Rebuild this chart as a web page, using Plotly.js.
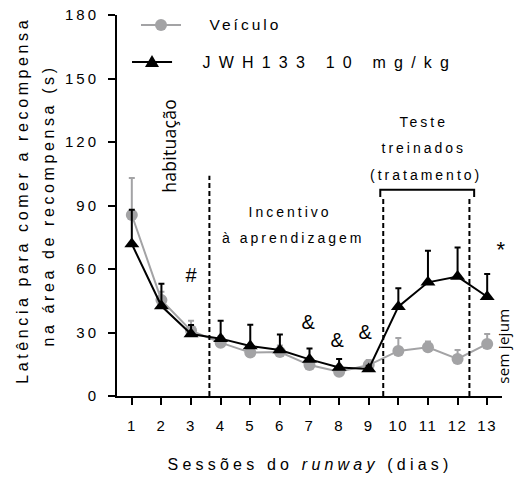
<!DOCTYPE html>
<html>
<head>
<meta charset="utf-8">
<script src="https://cdn.plot.ly/plotly-3.0.1.min.js"></script>
<style>
  body { margin: 0; background: #fff; }
</style>
</head>
<body>
<div id="chart" style="width:515px;height:477px;"></div>
<script>
// Data
const sessions = [1, 2, 3, 4, 5, 6, 7, 8, 9, 10, 11, 12, 13];
const sessionLabels = ["1","2","3","4","5","6","7","8","9","10","11","12","13"];
const veiculo    = [85.5, 45.3, 30.9, 25.2, 20.5, 20.8, 14.6, 11.5, 14.6, 21.3, 23.0, 17.5, 24.6];
const veiculoErr = [17.5, 4.0, 4.7, 3.0, 3.0, 3.0, 2.5, 2.5, 2.4, 6.1, 2.7, 4.2, 4.7];
const jwh        = [71.8, 42.5, 29.3, 27.1, 23.6, 21.7, 17.3, 13.5, 12.8, 42.2, 53.7, 56.4, 46.9];
const jwhErr     = [16.2, 10.5, 4.2, 8.5, 10.1, 7.3, 5.2, 4.0, 1.5, 8.7, 14.9, 13.8, 10.7];
const yTicks = [0, 30, 60, 90, 120, 150, 180];
const yTickLabels = ["0", "30", "60", "90", "120", "150", "180"];
const seriesNames = ["Veículo", "JWH133 10 mg/kg"];

const FONT = "Liberation Sans, Arial, sans-serif";
const ALT = "Open Sans, sans-serif";
const GRAY = "#a3a3a5";

const tracked = (s, px) => '<span style="letter-spacing:' + px + 'px">' + s + '</span>';

const traces = [
  {
    x: sessions, y: veiculo, name: seriesNames[0], type: "scatter", mode: "lines+markers",
    line: {color: GRAY, width: 2},
    marker: {symbol: "circle", size: 12, color: GRAY},
    error_y: {type: "data", symmetric: false, array: veiculoErr, arrayminus: veiculoErr.map(() => 0),
              color: GRAY, thickness: 2, width: 3},
    showlegend: false
  },
  {
    x: sessions, y: jwh, name: seriesNames[1], type: "scatter", mode: "lines+markers",
    line: {color: "#000", width: 2},
    marker: {symbol: "triangle-up", size: 13, color: "#000"},
    error_y: {type: "data", symmetric: false, array: jwhErr, arrayminus: jwhErr.map(() => 0),
              color: "#000", thickness: 2, width: 3},
    showlegend: false
  }
];

const ann = (text, x, y, size, extra) => Object.assign({
  text: text, x: x, y: y, xref: "x", yref: "y", showarrow: false,
  font: {family: FONT, size: size, color: "#000"}, xanchor: "center", yanchor: "middle"
}, extra || {});
const pann = (text, x, y, size, extra) => Object.assign({
  text: text, x: x, y: y, xref: "paper", yref: "paper", showarrow: false,
  font: {family: FONT, size: size, color: "#000"}, xanchor: "center", yanchor: "middle"
}, extra || {});

// legend key positions (paper coords)
const legY = [0.9738, 0.8766];

const layout = {
  width: 515, height: 477,
  margin: {l: 117, r: 13, t: 15, b: 81},
  paper_bgcolor: "#fff", plot_bgcolor: "#fff",
  font: {family: FONT, size: 15, color: "#000"},
  showlegend: false,
  xaxis: {
    range: [0.5, 13.5], tickvals: sessions, ticktext: sessionLabels.map(s => tracked(s, 1.5)),
    showline: true, linecolor: "#000", linewidth: 2, ticks: "outside", ticklen: 7, tickwidth: 2,
    tickcolor: "#000", showgrid: false, zeroline: false, tickfont: {size: 15}, ticklabelstandoff: 8
  },
  yaxis: {
    range: [0, 180], tickvals: yTicks, ticktext: yTickLabels.map(s => tracked(s, 3)),
    showline: true, linecolor: "#000", linewidth: 2, ticks: "outside", ticklen: 7, tickwidth: 2,
    tickcolor: "#000", showgrid: false, zeroline: false, tickfont: {size: 15}, ticklabelstandoff: 6
  },
  shapes: [
    {type: "line", xref: "x", yref: "y", x0: 3.62, x1: 3.62, y0: 0, y1: 104,
     line: {color: "#000", width: 2, dash: "5px,3px"}},
    {type: "line", xref: "x", yref: "y", x0: 9.49, x1: 9.49, y0: 0, y1: 94,
     line: {color: "#000", width: 2, dash: "5px,3px"}},
    {type: "line", xref: "x", yref: "y", x0: 12.4, x1: 12.4, y0: 0, y1: 94,
     line: {color: "#000", width: 2, dash: "5px,3px"}},
    {type: "path", xref: "x", yref: "y", path: "M 9.39 94 L 9.39 97.4 L 12.56 97.4 L 12.56 94",
     line: {color: "#000", width: 2}},
    // legend keys
    {type: "line", xref: "paper", yref: "paper", x0: 0.0623, x1: 0.1662, y0: legY[0], y1: legY[0],
     line: {color: GRAY, width: 2}},
    {type: "circle", xref: "paper", yref: "paper", xsizemode: "pixel", ysizemode: "pixel",
     xanchor: 0.1143, yanchor: legY[0], x0: -6, x1: 6, y0: -6, y1: 6,
     fillcolor: GRAY, line: {color: GRAY, width: 0}},
    {type: "line", xref: "paper", yref: "paper", x0: 0.039, x1: 0.143, y0: legY[1], y1: legY[1],
     line: {color: "#000", width: 2}},
    {type: "path", xref: "paper", yref: "paper", xsizemode: "pixel", ysizemode: "pixel",
     xanchor: 0.0909, yanchor: legY[1], path: "M -7 -5 L 7 -5 L 0 7 Z",
     fillcolor: "#000", line: {color: "#000", width: 0}}
  ],
  annotations: [
    ann("habituação", 2.26, 118, 17.5, {textangle: -90, font: {family: ALT, size: 17.5, color: "#000"}}),
    ann("#", 3.06, 57.2, 20),
    ann("Incentivo", 6.34, 86.9, 14),
    ann("à aprendizagem", 6.44, 74.6, 14),
    ann("&", 7.02, 35, 20),
    ann("&", 8.0, 26.5, 20),
    ann("&", 8.95, 30.2, 20),
    ann("Teste", 10.87, 129.4, 14),
    ann("treinados", 10.87, 117.1, 14),
    ann("(tratamento)", 10.95, 104.4, 14),
    ann("*", 13.5, 69, 22),
    pann("sem jejum", 1.005, 0.13, 15, {textangle: -90, font: {family: ALT, size: 15, color: "#000"}}),
    pann(seriesNames[0], 0.3325, legY[0], 15.5),
    pann(seriesNames[1], 0.552, legY[1], 16),
    pann("Latência para comer a recompensa", -0.2468, 0.514, 16, {textangle: -90}),
    pann("na área de recompensa (s)", -0.1792, 0.50, 16, {textangle: -90}),
    pann("Sessões do <i>runway</i> (dias)", 0.501, -0.181, 16)
  ]
};

// letter spacing per text (the reference uses widely tracked lettering)
const spacing = {
  "habituação": 0.3, "sem jejum": 0.3,
  "Veículo": 3, "JWH133 10 mg/kg": 8.2,
  "Latência para comer a recompensa": 3.6, "na área de recompensa (s)": 3.6,
  "Sessões do runway (dias)": 4.2
};

Plotly.newPlot("chart", traces, layout, {displayModeBar: false, staticPlot: true}).then(function (gd) {
  gd.querySelectorAll(".annotation text").forEach(function (t) {
    const s = spacing[t.textContent];
    t.style.letterSpacing = (s === undefined ? 3 : s) + "px";
  });
});
</script>
</body>
</html>
